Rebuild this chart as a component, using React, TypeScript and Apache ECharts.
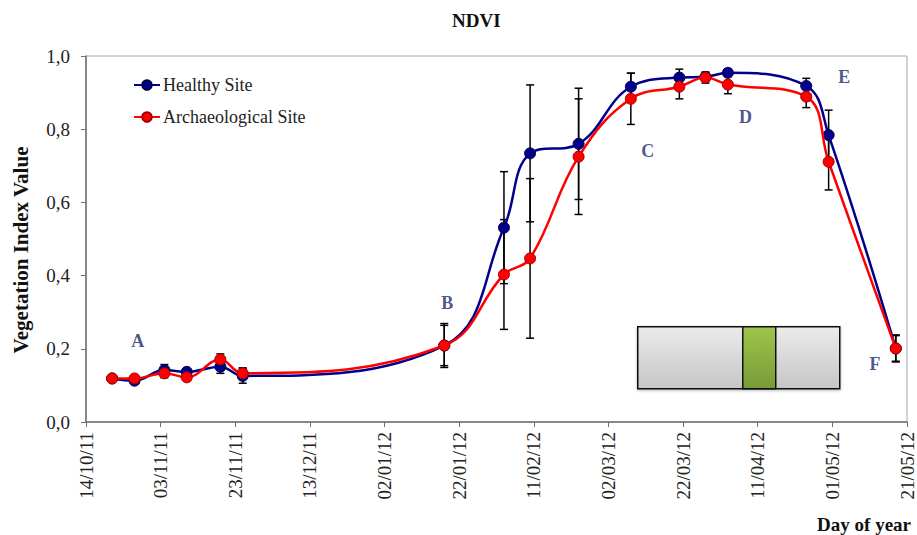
import React, { useEffect, useRef } from "react";
import * as echarts from "echarts";

// Acquisition dates (dd/mm/yy on the axis)
const dates = [
  "2011-10-21", "2011-10-27", "2011-11-04", "2011-11-10", "2011-11-19", "2011-11-25",
  "2012-01-18", "2012-02-03", "2012-02-10", "2012-02-23", "2012-03-08", "2012-03-21",
  "2012-03-28", "2012-04-03", "2012-04-24", "2012-04-30", "2012-05-18",
];

// Mean NDVI per site
const healthy = [0.119, 0.113, 0.142, 0.137, 0.151, 0.126, 0.209, 0.531, 0.734, 0.76, 0.916, 0.941, 0.943, 0.954, 0.918, 0.784, 0.201];
const archaeological = [0.119, 0.119, 0.133, 0.122, 0.171, 0.133, 0.209, 0.403, 0.447, 0.725, 0.883, 0.916, 0.941, 0.922, 0.889, 0.711, 0.201];

// Standard deviation per site
const healthyErr = [0.005, 0.008, 0.015, 0.008, 0.018, 0.02, 0.06, 0.153, 0.187, 0.152, 0.037, 0.023, 0.012, 0.01, 0.021, 0.068, 0.037];
const archaeologicalErr = [0.005, 0.008, 0.012, 0.008, 0.015, 0.015, 0.055, 0.15, 0.218, 0.158, 0.07, 0.033, 0.015, 0.025, 0.03, 0.077, 0.035];

// Phenological stage markers: [label, day since 14/10/11, index value]
const stages: [string, number, number][] = [
  ["A", 13.9, 0.221],
  ["B", 96.8, 0.325],
  ["C", 150.5, 0.74],
  ["D", 176.7, 0.833],
  ["E", 203.2, 0.943],
  ["F", 211.4, 0.158],
];

const seriesNames = ["Healthy Site", "Archaeological Site"];

const START = Date.UTC(2011, 9, 14);
const DAY = 86400000;
const SERIF = "Liberation Serif";

const dayOf = (s: string) => {
  const [y, m, d] = s.split("-").map(Number);
  return (Date.UTC(y, m - 1, d) - START) / DAY;
};
const pad = (n: number) => String(n).padStart(2, "0");
const fmtDay = (v: number) => {
  const dt = new Date(START + v * DAY);
  return `${pad(dt.getUTCDate())}/${pad(dt.getUTCMonth() + 1)}/${pad(dt.getUTCFullYear() % 100)}`;
};

export default function App() {
  const ref = useRef<HTMLDivElement>(null);

  useEffect(() => {
    document.body.style.margin = "0";
    const chart = echarts.init(ref.current!, undefined, { renderer: "svg" });
    const xs = dates.map(dayOf);

    const errData = (vals: number[], errs: number[]) =>
      xs.map((x, i) => [x, vals[i] - errs[i], vals[i] + errs[i]]);

    const errorSeries = (name: string, data: number[][]) => ({
      type: "custom",
      name,
      z: 1,
      silent: true,
      encode: { x: 0, y: [1, 2] },
      data,
      renderItem: (_p: any, api: any) => {
        const x = api.value(0);
        const lo = api.coord([x, api.value(1)]);
        const hi = api.coord([x, api.value(2)]);
        const cap = 4;
        const style = { stroke: "#000", lineWidth: 1.5 };
        return {
          type: "group",
          children: [
            { type: "line", shape: { x1: lo[0], y1: lo[1], x2: hi[0], y2: hi[1] }, style },
            { type: "line", shape: { x1: lo[0] - cap, y1: lo[1], x2: lo[0] + cap, y2: lo[1] }, style },
            { type: "line", shape: { x1: hi[0] - cap, y1: hi[1], x2: hi[0] + cap, y2: hi[1] }, style },
          ],
        };
      },
    });

    chart.setOption({
      animation: false,
      textStyle: { fontFamily: SERIF },
      grid: {
        left: 86,
        right: 10,
        top: 56,
        bottom: 113,
        outerBoundsMode: "none",
        show: true,
        borderColor: "#a8a8a8",
        borderWidth: 1,
      },
      legend: {
        data: seriesNames,
        orient: "vertical",
        left: 128,
        top: 71,
        itemWidth: 26,
        itemHeight: 12,
        itemGap: 14,
        textStyle: { fontFamily: SERIF, fontSize: 18, color: "#222", padding: [0, 0, 0, -2] },
      },
      xAxis: {
        type: "value",
        min: 0,
        max: 220,
        interval: 20,
        splitLine: { show: false },
        axisLine: { lineStyle: { color: "#707070", width: 1.5 } },
        axisTick: { length: 5, lineStyle: { color: "#707070" } },
        axisLabel: {
          rotate: 90,
          margin: 10,
          fontFamily: SERIF,
          fontSize: 19,
          lineHeight: 13,
          color: "#222",
          formatter: fmtDay,
        },
      },
      yAxis: {
        type: "value",
        min: 0,
        max: 1,
        interval: 0.2,
        splitLine: { show: false },
        axisLine: { show: true, lineStyle: { color: "#707070", width: 1.5 } },
        axisTick: { show: true, length: 5, lineStyle: { color: "#707070" } },
        axisLabel: {
          margin: 16,
          fontFamily: SERIF,
          fontSize: 19,
          color: "#222",
          formatter: (v: number) => v.toFixed(1).replace(".", ","),
        },
      },
      series: [
        errorSeries("healthy-err", errData(healthy, healthyErr)),
        errorSeries("archaeological-err", errData(archaeological, archaeologicalErr)),
        {
          name: seriesNames[0],
          type: "line",
          z: 3,
          smooth: 0.4,
          symbol: "circle",
          symbolSize: 11,
          data: xs.map((x, i) => [x, healthy[i]]),
          lineStyle: { color: "#00008b", width: 2.5 },
          itemStyle: { color: "#00008b", borderColor: "#000050", borderWidth: 1 },
        },
        {
          name: seriesNames[1],
          type: "line",
          z: 4,
          smooth: 0.4,
          symbol: "circle",
          symbolSize: 11,
          data: xs.map((x, i) => [x, archaeological[i]]),
          lineStyle: { color: "#ff0000", width: 2.5 },
          itemStyle: { color: "#ff0000", borderColor: "#a00000", borderWidth: 1 },
        },
        {
          name: "stages",
          type: "scatter",
          z: 5,
          silent: true,
          symbolSize: 0,
          data: stages.map(([t, x, y]) => ({ value: [x, y], name: t })),
          label: {
            show: true,
            position: "inside",
            formatter: (p: any) => p.name,
            fontFamily: SERIF,
            fontSize: 18,
            fontWeight: "bold",
            color: "#1c2a6e",
          },
        },
      ],
      graphic: [
        {
          type: "text",
          left: 476 - 24,
          top: 11,
          style: { text: "NDVI", fontFamily: SERIF, fontSize: 19, fontWeight: "bold", fill: "#111" },
        },
        {
          type: "text",
          x: 21,
          y: 250,
          rotation: Math.PI / 2,
          style: {
            text: "Vegetation Index Value",
            fontFamily: SERIF,
            fontSize: 21,
            fontWeight: "bold",
            fill: "#111",
            align: "center",
            verticalAlign: "middle",
          },
        },
        {
          type: "text",
          right: 6,
          top: 515,
          style: { text: "Day of year", fontFamily: SERIF, fontSize: 19, fontWeight: "bold", fill: "#111" },
        },
        {
          type: "group",
          left: 637,
          top: 326,
          children: [
            {
              type: "rect",
              shape: { x: 0, y: 0, width: 202, height: 62 },
              style: {
                fill: new echarts.graphic.LinearGradient(0, 0, 0, 1, [
                  { offset: 0, color: "#ebebeb" },
                  { offset: 1, color: "#c6c6c6" },
                ]),
                stroke: "#111",
                lineWidth: 1.5,
                shadowBlur: 3,
                shadowColor: "rgba(0,0,0,0.3)",
                shadowOffsetY: 1,
              },
            },
            {
              type: "rect",
              shape: { x: 105, y: 0, width: 33, height: 62 },
              style: {
                fill: new echarts.graphic.LinearGradient(0, 0, 0, 1, [
                  { offset: 0, color: "#9fc64a" },
                  { offset: 1, color: "#779a37" },
                ]),
                stroke: "#111",
                lineWidth: 1.5,
              },
            },
          ],
        },
      ],
    });

    return () => chart.dispose();
  }, []);

  return (
    <div
      ref={ref}
      style={{ position: "absolute", left: 0, top: 0, width: 917, height: 535 }}
    />
  );
}
